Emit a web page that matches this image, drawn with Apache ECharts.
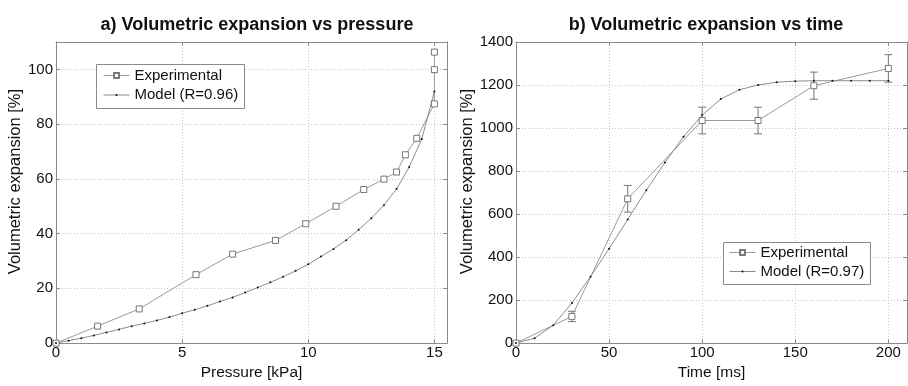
<!DOCTYPE html>
<html><head><meta charset="utf-8">
<script src="https://cdn.jsdelivr.net/npm/echarts@6/dist/echarts.min.js"></script>
<style>html,body{margin:0;padding:0;background:#fff}#c{width:908px;height:386px}</style>
</head><body><div id="c"></div>
<script>
// Panel a) Volumetric expansion vs pressure
var expPressure = [0, 1.65, 3.3, 5.55, 7.0, 8.7, 9.9, 11.1, 12.2, 13.0, 13.5, 13.85, 14.3, 15.0, 15.0, 15.0];
var expExpansionA = [0, 6.2, 12.5, 25, 32.5, 37.5, 43.6, 50, 56.1, 59.9, 62.5, 68.8, 74.8, 87.4, 99.9, 106.3];
var modelPressure = [0, 0.5, 1, 1.5, 2, 2.5, 3, 3.5, 4, 4.5, 5, 5.5, 6, 6.5, 7, 7.5, 8, 8.5, 9, 9.5, 10, 10.5, 11, 11.5, 12, 12.5, 13, 13.5, 14, 14.5, 15];
var modelExpansionA = [0, 0.9, 1.8, 2.8, 3.9, 5.0, 6.2, 7.2, 8.3, 9.5, 10.9, 12.2, 13.6, 15.2, 16.7, 18.5, 20.3, 22.2, 24.2, 26.4, 28.8, 31.6, 34.4, 37.6, 41.4, 45.6, 50.4, 56.3, 64.3, 74.6, 91.9];
// Panel b) Volumetric expansion vs time
var expTime = [0, 30, 60, 100, 130, 160, 200];
var expExpansionB = [0, 124, 671, 1035, 1035, 1197, 1277];
var expErrorB = [0, 24, 62, 62, 62, 63, 64];
var modelTime = [0, 10, 20, 30, 40, 50, 60, 70, 80, 90, 100, 110, 120, 130, 140, 150, 160, 170, 180, 190, 200];
var modelExpansionB = [0, 23, 83, 186, 309, 439, 575, 711, 840, 960, 1060, 1135, 1178, 1200, 1213, 1218, 1220, 1220, 1220, 1220, 1220];
var titleA = 'a) Volumetric expansion vs pressure';
var titleB = 'b) Volumetric expansion vs time';
var seriesNames = ['Experimental', 'Model (R=0.96)', 'Model (R=0.97)'];

function zip(a, b) { return a.map(function (v, i) { return [v, b[i]]; }); }

var FONT = 'Liberation Sans, Arial, sans-serif';
var frame = '#8a8a8a';
function xAx(gi, min, max, interval, name, top) {
  return {
    type: 'value', gridIndex: gi, min: min, max: max, interval: interval,
    position: top ? 'top' : 'bottom',
    name: top ? '' : name, nameLocation: 'middle', nameGap: 19,
    nameTextStyle: { fontFamily: FONT, fontSize: 15.5, color: '#111' },
    axisLine: { show: true, onZero: false, lineStyle: { color: frame, width: 1 } },
    axisTick: { show: true, inside: true, length: 4, lineStyle: { color: frame } },
    axisLabel: { show: !top, showMaxLabel: false, margin: 2, fontFamily: FONT, fontSize: 15, color: '#111' },
    splitLine: { show: !top, lineStyle: { type: [1, 2], color: '#c4c4c4', width: 1 } }
  };
}
function yAx(gi, min, max, interval, name, right, showMax, gap) {
  return {
    type: 'value', gridIndex: gi, min: min, max: max, interval: interval,
    position: right ? 'right' : 'left',
    name: right ? '' : name, nameLocation: 'middle', nameGap: gap, nameRotate: 90,
    nameTextStyle: { fontFamily: FONT, fontSize: 16.5, color: '#111', padding: [0, 0, 0, 22] },
    axisLine: { show: true, onZero: false, lineStyle: { color: frame, width: 1 } },
    axisTick: { show: true, inside: true, length: 4, lineStyle: { color: frame } },
    axisLabel: { show: !right, showMaxLabel: showMax, margin: 3, fontFamily: FONT, fontSize: 15, color: '#111',
      formatter: function (v) { return String(v); } },
    splitLine: { show: !right, lineStyle: { type: [1, 2], color: '#c4c4c4', width: 1 } }
  };
}
function legendItem(name, left, top, ih) {
  return {
    data: [name], orient: 'vertical', left: left, top: top, z: 6,
    padding: 0, itemWidth: 26, itemHeight: ih, itemTextGap: 3,
    lineStyle: { width: 1 },
    textStyle: { fontFamily: FONT, fontSize: 15, color: '#111' }
  };
}

var errData = expTime.map(function (t, i) { return [t, expExpansionB[i] - expErrorB[i], expExpansionB[i] + expErrorB[i]]; }).filter(function (d, i) { return expErrorB[i] > 0; });

var chart = echarts.init(document.getElementById('c'), null, { renderer: 'canvas' });
chart.setOption({
  animation: false,
  backgroundColor: '#fff',
  title: [
    { text: titleA, left: 252, top: 11, textAlign: 'center', textStyle: { fontFamily: FONT, fontSize: 18, fontWeight: 'bold', color: '#111' } },
    { text: titleB, left: 701, top: 11, textAlign: 'center', textStyle: { fontFamily: FONT, fontSize: 18, fontWeight: 'bold', color: '#111' } }
  ],
  grid: [
    { left: 56, right: 461, top: 42, bottom: 36 },
    { left: 516, right: 1, top: 42, bottom: 36 }
  ],
  xAxis: [
    xAx(0, 0, 15.5, 5, 'Pressure [kPa]', false),
    xAx(0, 0, 15.5, 5, '', true),
    xAx(1, 0, 210, 50, 'Time [ms]', false),
    xAx(1, 0, 210, 50, '', true)
  ],
  yAxis: [
    yAx(0, 0, 110, 20, 'Volumetric expansion [%]', false, false, 26),
    yAx(0, 0, 110, 20, '', true, false, 0),
    yAx(1, 0, 1400, 200, 'Volumetric expansion [%]', false, true, 39),
    yAx(1, 0, 1400, 200, '', true, true, 0)
  ],
  graphic: [
    { type: 'rect', z: 3, shape: { x: 96.5, y: 64.5, width: 148, height: 44 }, style: { fill: '#fff', stroke: frame, lineWidth: 1 } },
    { type: 'rect', z: 3, shape: { x: 723.5, y: 242.5, width: 147, height: 42 }, style: { fill: '#fff', stroke: frame, lineWidth: 1 } }
  ],
  legend: [
    legendItem(seriesNames[0], 103, 68, 6),
    legendItem(seriesNames[1], 103, 87.5, 2.5),
    legendItem(seriesNames[0], 729, 245, 6),
    legendItem(seriesNames[2], 729, 264, 2.5)
  ],
  series: [
    {
      name: seriesNames[0], type: 'line', xAxisIndex: 0, yAxisIndex: 0,
      data: zip(expPressure, expExpansionA),
      symbol: 'rect', symbolSize: 6, showAllSymbol: true,
      lineStyle: { color: '#9a9a9a', width: 1 },
      itemStyle: { color: '#fff', borderColor: '#777', borderWidth: 1 }
    },
    {
      name: seriesNames[1], type: 'line', xAxisIndex: 0, yAxisIndex: 0,
      data: zip(modelPressure, modelExpansionA),
      symbol: 'circle', symbolSize: 2, showAllSymbol: true,
      lineStyle: { color: '#8c8c8c', width: 1 },
      itemStyle: { color: '#111', borderWidth: 0 }
    },
    {
      name: seriesNames[0], type: 'line', xAxisIndex: 2, yAxisIndex: 2,
      data: zip(expTime, expExpansionB),
      symbol: 'rect', symbolSize: 6, showAllSymbol: true,
      lineStyle: { color: '#9a9a9a', width: 1 },
      itemStyle: { color: '#fff', borderColor: '#777', borderWidth: 1 }
    },
    {
      name: seriesNames[2], type: 'line', xAxisIndex: 2, yAxisIndex: 2,
      data: zip(modelTime, modelExpansionB),
      symbol: 'circle', symbolSize: 2, showAllSymbol: true,
      lineStyle: { color: '#8c8c8c', width: 1 },
      itemStyle: { color: '#111', borderWidth: 0 }
    },
    {
      type: 'custom', xAxisIndex: 2, yAxisIndex: 2, data: errData, z: 2,
      renderItem: function (params, api) {
        var x = api.value(0);
        var lo = api.coord([x, api.value(1)]);
        var hi = api.coord([x, api.value(2)]);
        var w = 4;
        var st = { stroke: '#777', lineWidth: 1 };
        return {
          type: 'group', children: [
            { type: 'line', shape: { x1: lo[0], y1: lo[1], x2: hi[0], y2: hi[1] }, style: st },
            { type: 'line', shape: { x1: lo[0] - w, y1: lo[1], x2: lo[0] + w, y2: lo[1] }, style: st },
            { type: 'line', shape: { x1: hi[0] - w, y1: hi[1], x2: hi[0] + w, y2: hi[1] }, style: st }
          ]
        };
      }
    }
  ]
});
</script></body></html>
